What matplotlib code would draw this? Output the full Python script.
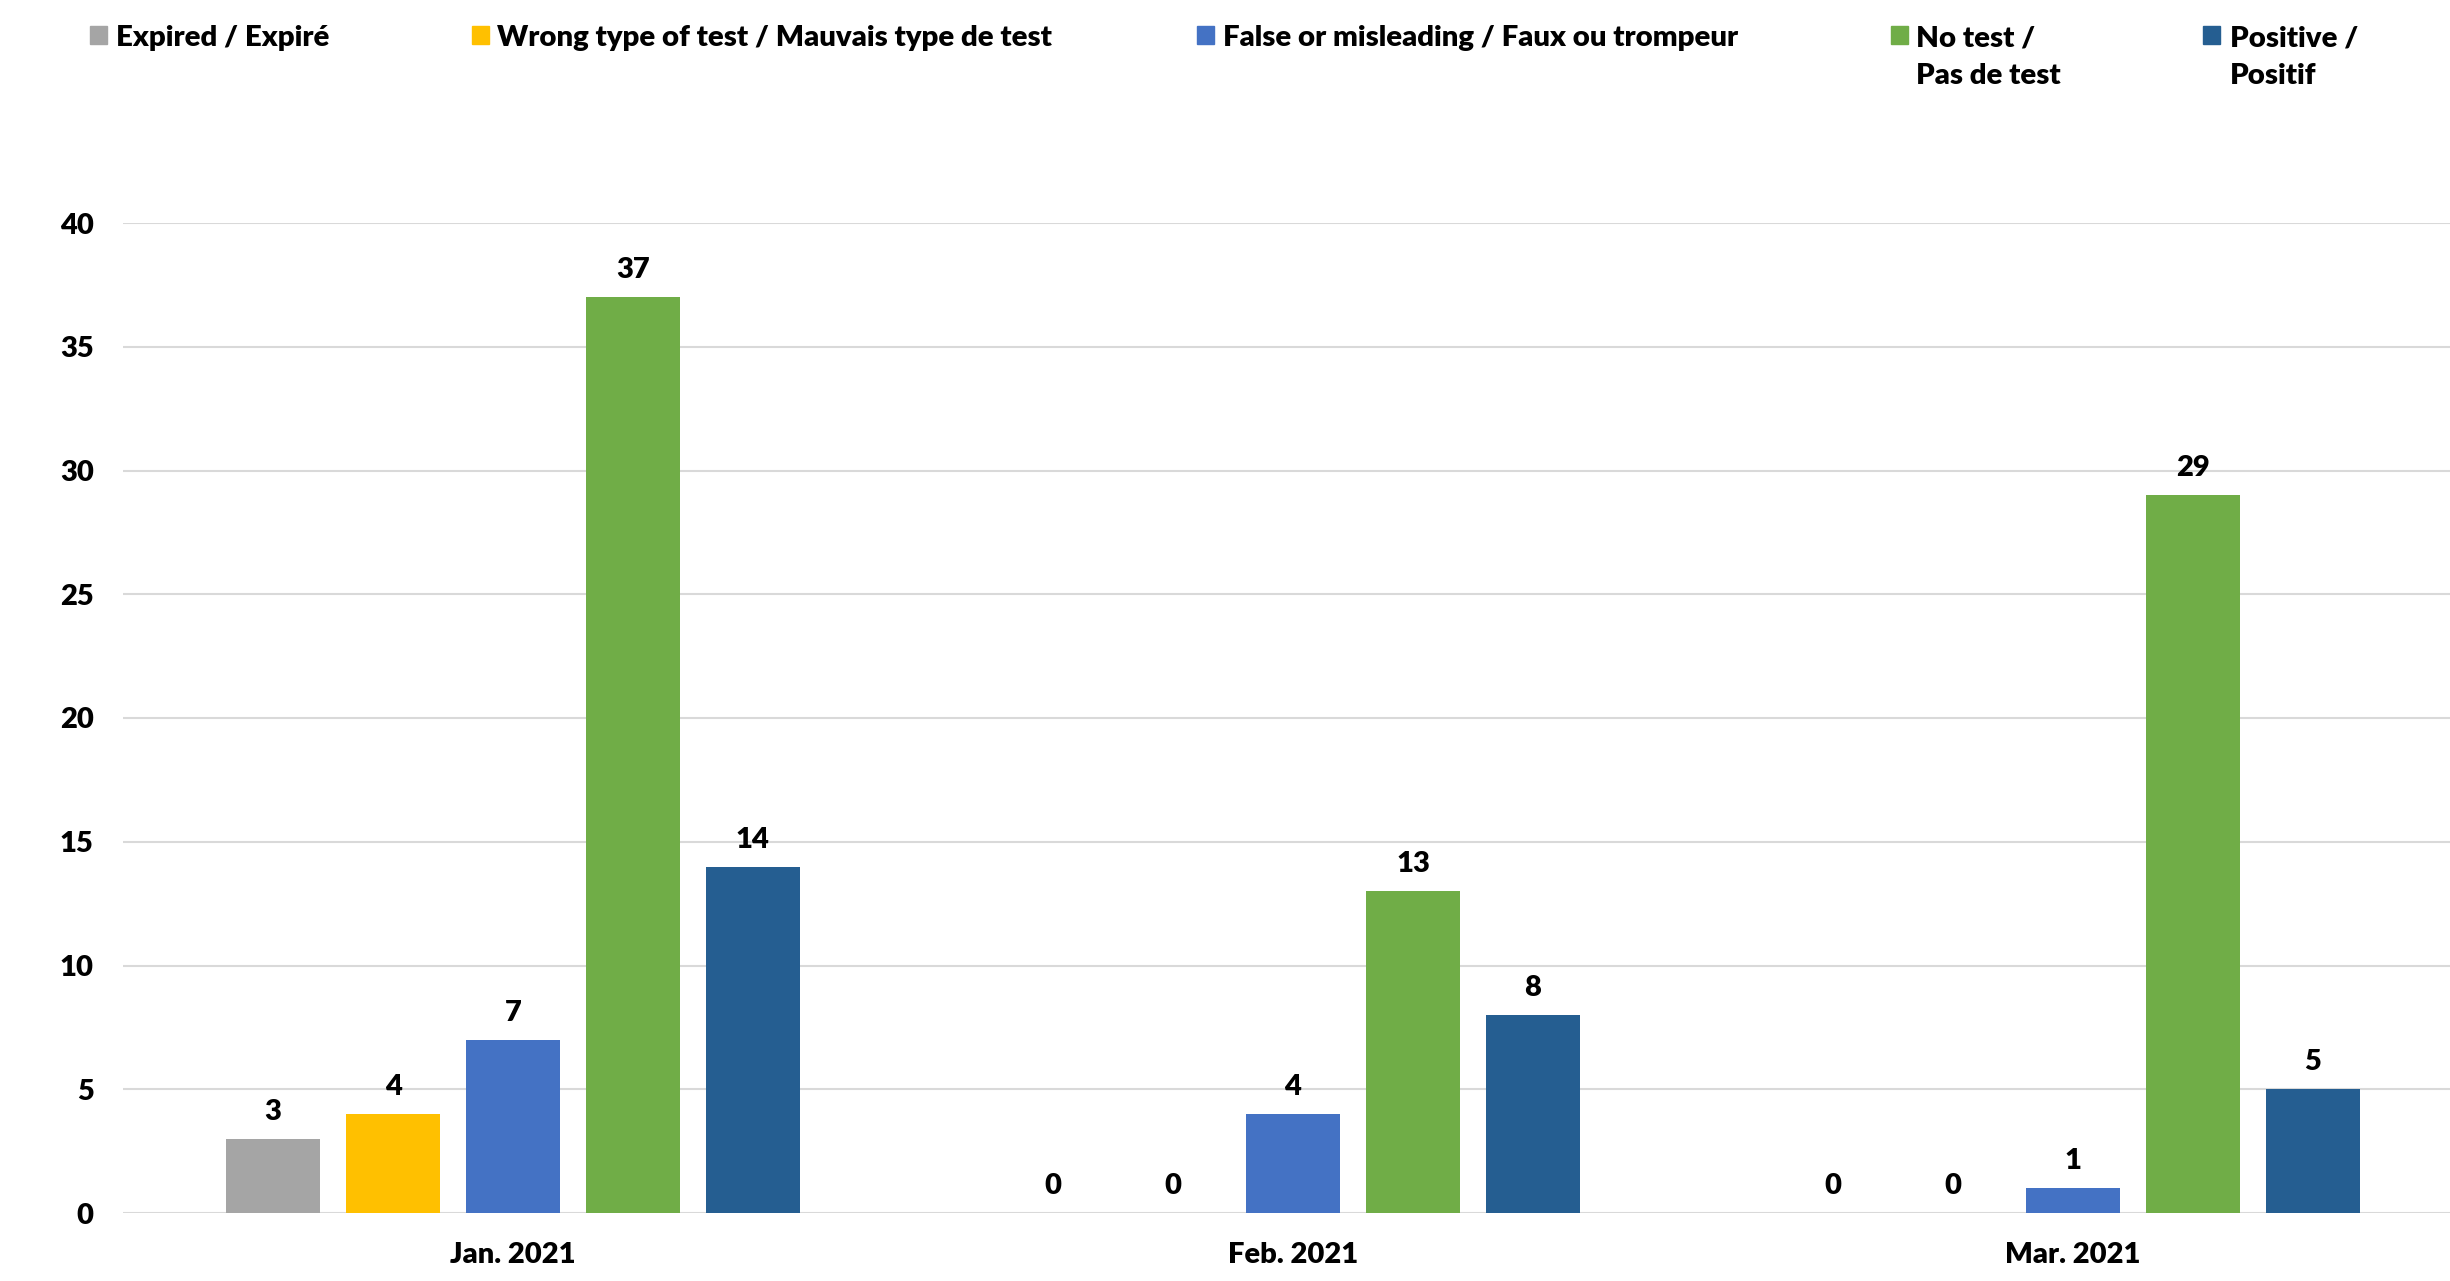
import matplotlib
matplotlib.use("Agg")
import matplotlib.pyplot as plt
from matplotlib.patches import Rectangle
import numpy as np

plt.rcParams['font.family'] = ['Lato', 'DejaVu Sans']
plt.rcParams['font.weight'] = 'heavy'

categories = ["Jan. 2021", "Feb. 2021", "Mar. 2021"]
series_names = ["Expired / Expiré",
                "Wrong type of test / Mauvais type de test",
                "False or misleading / Faux ou trompeur",
                "No test /\nPas de test",
                "Positive /\nPositif"]
expired = [3, 0, 0]
wrong_type = [4, 0, 0]
false_misleading = [7, 4, 1]
no_test = [37, 13, 29]
positive = [14, 8, 5]
colors = ["#A5A5A5", "#FFC000", "#4472C4", "#70AD47", "#255E91"]
yticks = [0, 5, 10, 15, 20, 25, 30, 35, 40]

W, H = 2450, 1281
fig = plt.figure(figsize=(W / 100, H / 100), dpi=100)
ax = fig.add_axes([123 / W, (H - 1213) / H, 2340 / W, (1213 - 223) / H])

FW = 'heavy'
series = [expired, wrong_type, false_misleading, no_test, positive]
x = np.arange(len(categories))
slot = 0.1538
bw = 0.12
for i, (vals, c) in enumerate(zip(series, colors)):
    bars = ax.bar(x + (i - 2) * slot, vals, width=bw, color=c, zorder=3)
    ax.bar_label(bars, padding=10, fontsize=21, fontweight=FW, color='black')

ax.set_xlim(-0.5, 2.5)
ax.set_ylim(0, 40)
ax.set_yticks(yticks)
ax.set_xticks(x)
ax.set_xticklabels(categories, fontweight=FW)
ax.set_yticklabels([str(v) for v in yticks], fontweight=FW)
ax.tick_params(axis='both', length=0, labelsize=21)
ax.tick_params(axis='y', pad=21)
ax.tick_params(axis='x', pad=21)
for s in ax.spines.values():
    s.set_visible(False)
ax.yaxis.grid(True, color="#D9D9D9", linewidth=1.5, zorder=0)
ax.set_axisbelow(True)

# legend (manual, Excel-style)
leg_sq_x = [90, 472, 1197, 1891, 2203]
leg_tx_x = [116, 497, 1223, 1916, 2230]
sq = 17
for name, c, sx, tx in zip(series_names, colors, leg_sq_x, leg_tx_x):
    fig.patches.append(Rectangle((sx / W, 1 - (35 + sq / 2) / H), sq / W, sq / H,
                                 transform=fig.transFigure, color=c))
    fig.text(tx / W, 1 - 25 / H, name, ha='left', va='top', fontsize=21.2,
             fontweight=FW, linespacing=1.56)

fig.savefig("out.png", dpi=100)
